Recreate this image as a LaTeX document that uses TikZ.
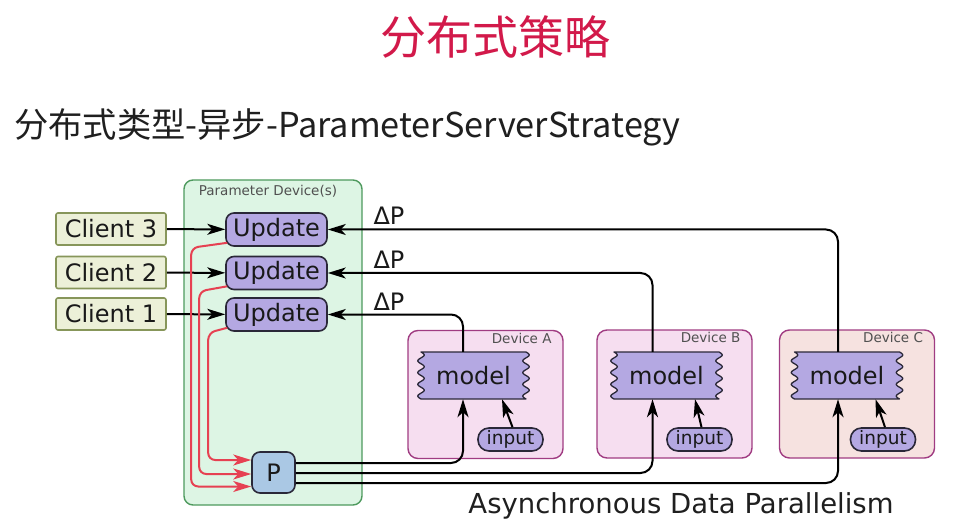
\documentclass[tikz,border=0pt]{standalone}
\usepackage{fontspec}
\setmainfont{DejaVu Sans}
\newfontfamily\cjk{Noto Sans CJK SC}
\usetikzlibrary{arrows.meta,calc}
\definecolor{titlered}{HTML}{D2194A}
\definecolor{pdfill}{HTML}{DDF5E4}
\definecolor{pdline}{HTML}{4E9A5E}
\definecolor{clfill}{HTML}{ECF0D8}
\definecolor{clline}{HTML}{87965A}
\definecolor{upfill}{HTML}{B4A8E2}
\definecolor{darkline}{HTML}{2A2838}
\definecolor{pfill}{HTML}{AAC8E4}
\definecolor{devfill}{HTML}{F6DEF0}
\definecolor{devCfill}{HTML}{F6E2E0}
\definecolor{devline}{HTML}{A03C82}
\definecolor{redline}{HTML}{E64152}
\definecolor{labelgray}{HTML}{505050}
% wavy-sided box: x1 y1 x2 y2
\newcommand\wavybox[4]{%
  \filldraw[modelshape] (#1,#2) -- (#3,#2)
    -- plot[domain=0:1, samples=90, variable=\t] ({#3+3.2*sin(\t*4*360)}, {#2+\t*(#4-#2)})
    -- (#1,#4)
    -- plot[domain=0:1, samples=90, variable=\t] ({#1-3.2*sin(\t*4*360)}, {#4-\t*(#4-#2)})
    -- cycle;}
\begin{document}
\begin{tikzpicture}[x=1pt,y=-1pt,
  big/.style={font=\fontsize{24}{28}\selectfont, text=black!90},
  small/.style={font=\fontsize{13.5}{16}\selectfont, text=labelgray, inner sep=0pt},
  clientbox/.style={big, draw=clline, fill=clfill, line width=1.6pt, rounded corners=2pt, minimum width=110pt, minimum height=32pt, inner sep=0pt},
  updbox/.style={big, draw=darkline, fill=upfill, line width=1.6pt, rounded corners=8pt, minimum width=101pt, minimum height=33pt, inner sep=0pt},
  pbox/.style={big, draw=darkline, fill=pfill, line width=1.6pt, rounded corners=8pt, minimum width=43pt, minimum height=41pt, inner sep=0pt},
  pdbox/.style={draw=pdline, fill=pdfill, line width=1.4pt, rounded corners=9pt, minimum width=178pt, minimum height=325pt},
  devbox/.style={draw=devline, fill=devfill, line width=1.4pt, rounded corners=10pt, minimum width=155pt, minimum height=128pt},
  modelshape/.style={draw=darkline, fill=upfill, line width=1.3pt, line join=round},
  modeltext/.style={big, minimum width=109pt, minimum height=47pt, inner sep=0pt},
  inbox/.style={font=\fontsize{18.5}{22}\selectfont, text=black!90, draw=darkline, fill=upfill, line width=1.6pt, rounded corners=11pt, minimum width=65pt, minimum height=23pt, inner sep=0pt},
  arr/.style={draw=black, line width=2pt, -{Stealth[length=18pt,width=11pt,inset=5pt]}, rounded corners=12pt},
  redarr/.style={draw=redline, line width=2pt, -{Stealth[length=18pt,width=11pt,inset=5pt]}, rounded corners=7pt}
]
\fill[white] (0,0) rectangle (976,526);
\useasboundingbox (0,0) rectangle (976,526);

% titles
\node[font=\cjk\fontsize{46}{50}\selectfont, text=titlered] (title) at (495,37) {分布式策略};
\node[font=\cjk\fontsize{34.3}{38}\selectfont, text=black!88, anchor=west, inner sep=0pt] (subtitle) at (14,127) {分布式类型-异步-ParameterServerStrategy};

% parameter device container
\node[pdbox] (pd) at (273,342.5) {};
\node[small] (pdl) at (268,191) {Parameter Device(s)};

% devices
\node[devbox] (dA) at (485.5,394.5) {};
\node[devbox] (dB) at (674.5,394) {};
\node[devbox, fill=devCfill] (dC) at (857,394) {};
\node[small, anchor=north east] (dAl) at ([xshift=-12pt,yshift=-3pt]dA.north east) {Device A};
\node[small, anchor=north east] (dBl) at ([xshift=-12pt,yshift=-3pt]dB.north east) {Device B};
\node[small, anchor=north east] (dCl) at ([xshift=-12pt,yshift=-3pt]dC.north east) {Device C};

% clients
\node[clientbox] (c3) at (111,229) {Client 3};
\node[clientbox] (c2) at (111,272.5) {Client 2};
\node[clientbox] (c1) at (111,314) {Client 1};

% updates
\node[updbox] (u3) at (276.5,229.5) {Update};
\node[updbox] (u2) at (276.5,273) {Update};
\node[updbox] (u1) at (276.5,314.5) {Update};

% P
\node[pbox] (P) at (273.5,472.5) {P};

% models
\wavybox{421}{352}{526}{399}
\wavybox{614}{352}{719}{399}
\wavybox{794.5}{352}{899.5}{399}
\node[modeltext] (mA) at (473.5,375.5) {model};
\node[modeltext] (mB) at (666.5,375.5) {model};
\node[modeltext] (mC) at (847,375.5) {model};

% inputs
\node[inbox] (iA) at (510.5,439.5) {input};
\node[inbox] (iB) at (699.5,439.5) {input};
\node[inbox] (iC) at (883,439.5) {input};

% client -> update
\draw[arr] (c3) -- (u3);
\draw[arr] (c2) -- (u2);
\draw[arr] (c1) -- (u1);

% delta P
\draw[arr] ([xshift=-9pt]mC.north) |- (u3.east);
\draw[arr] ([xshift=-14pt]mB.north) |- (u2.east);
\draw[arr] ([xshift=-10.5pt]mA.north) |- (u1.east);
\node[big] (dp3) at (389,216) {ΔP};
\node[big] (dp2) at (389,259.5) {ΔP};
\node[big] (dp1) at (389,302) {ΔP};

% P -> models
\draw[arr] ([yshift=9.5pt]P.east) -| ([xshift=-10.5pt]mA.south);
\draw[arr] ([yshift=-0.5pt]P.east) -| ([xshift=-14pt]mB.south);
\draw[arr] ([yshift=-10.5pt]P.east) -| ([xshift=-9pt]mC.south);

% input -> model
\draw[arr] ([xshift=2pt]iA.north) -- ([xshift=28.5pt]mA.south);
\draw[arr] ([xshift=2pt]iB.north) -- ([xshift=28.5pt]mB.south);
\draw[arr] ([xshift=2pt]iC.north) -- ([xshift=28.5pt]mC.south);

% red update -> P
\draw[redarr] ([xshift=2pt,yshift=4pt]u3.south west) -- ++(-36,5) |- ([yshift=-14pt]P.west);
\draw[redarr] ([xshift=2pt,yshift=4pt]u2.south west) -- ++(-28,5) |- ([yshift=-1.5pt]P.west);
\draw[redarr] ([xshift=2pt,yshift=4pt]u1.south west) -- ++(-19,5) |- ([yshift=12.5pt]P.west);

% caption
\node[font=\fontsize{27.5}{30}\selectfont, text=black!88] (cap) at (681,506) {Asynchronous Data Parallelism};
\end{tikzpicture}
\end{document}
